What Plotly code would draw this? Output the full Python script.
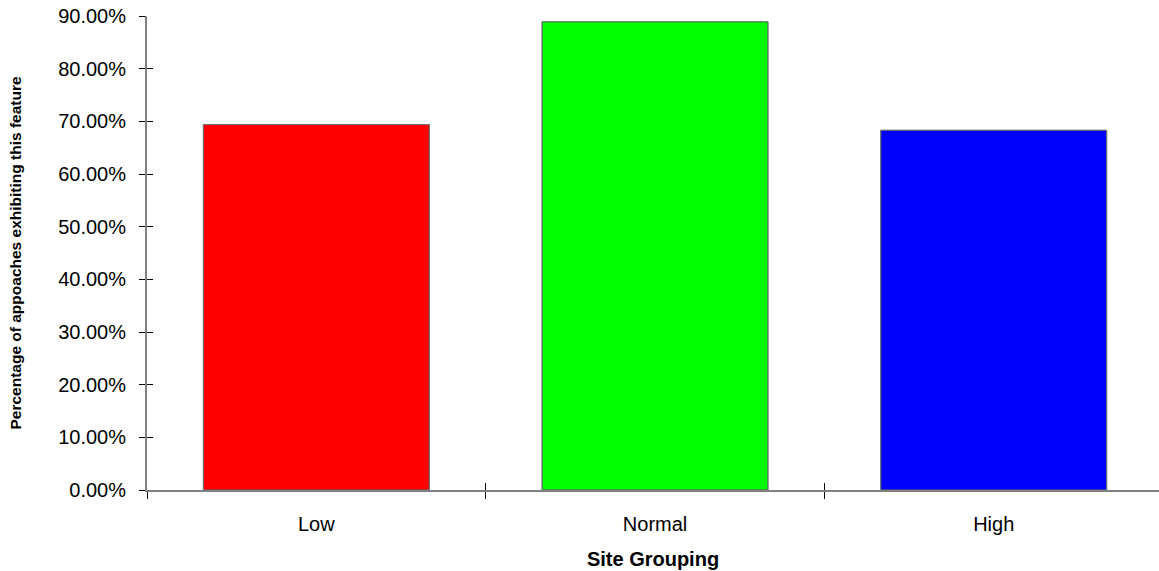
import plotly.graph_objects as go

categories = ["Low", "Normal", "High"]
values = [0.694, 0.889, 0.683]
bar_colors = ["#FF0000", "#00FF00", "#0000FF"]
y_tick_values = [0, 0.1, 0.2, 0.3, 0.4, 0.5, 0.6, 0.7, 0.8, 0.9]

FONT = "Liberation Sans, Arial, sans-serif"

fig = go.Figure()
fig.add_trace(go.Bar(
    x=categories, y=values,
    marker=dict(color=bar_colors, line=dict(color="#000000", width=1)),
    showlegend=False, hoverinfo="x+y",
))
# invisible copy on overlay axes, used only to draw the inner halves of the tick marks
fig.add_trace(go.Bar(
    x=categories, y=values, xaxis="x2", yaxis="y2",
    marker=dict(color="rgba(0,0,0,0)"), showlegend=False, hoverinfo="skip",
))

xrange = [-0.5, 2.488]
yrange = [0, 0.9]

fig.update_layout(
    width=1159, height=571,
    margin=dict(l=147, r=0, t=16, b=81),
    paper_bgcolor="white", plot_bgcolor="white",
    bargap=0.333,
    font=dict(family=FONT, color="#000000", size=20),
    xaxis=dict(
        type="category", range=xrange, tickson="boundaries",
        ticks="outside", ticklen=7, tickcolor="#000000", tickwidth=1,
        showline=True, linecolor="#808080", linewidth=2,
        showgrid=False, zeroline=False,
        tickfont=dict(size=20), ticklabelstandoff=15,
        title=dict(text="<b>Site Grouping</b>", font=dict(size=20), standoff=18),
    ),
    yaxis=dict(
        range=yrange, tickvals=y_tick_values, tickformat=".2%",
        ticks="outside", ticklen=6, tickcolor="#000000", tickwidth=1,
        showline=True, linecolor="#808080", linewidth=2,
        showgrid=False, zeroline=False, ticklabeloverflow="allow",
        tickfont=dict(size=20), ticklabelstandoff=9,
        title=dict(text="<b>Percentage of appoaches exhibiting this feature</b>",
                   font=dict(size=15.5), standoff=33),
    ),
    xaxis2=dict(
        type="category", range=xrange, tickson="boundaries", overlaying="x",
        anchor="y2", side="bottom",
        ticks="inside", ticklen=7, tickcolor="#000000", tickwidth=1,
        showline=False, showgrid=False, zeroline=False, showticklabels=False,
    ),
    yaxis2=dict(
        range=yrange, tickvals=y_tick_values, overlaying="y", anchor="x2",
        side="left",
        ticks="inside", ticklen=6, tickcolor="#000000", tickwidth=1,
        showline=False, showgrid=False, zeroline=False, showticklabels=False,
    ),
)

fig.write_html(
    "out.html",
    config={"displayModeBar": False},
    post_script="document.body.style.margin='0';document.body.style.overflow='hidden';",
)
